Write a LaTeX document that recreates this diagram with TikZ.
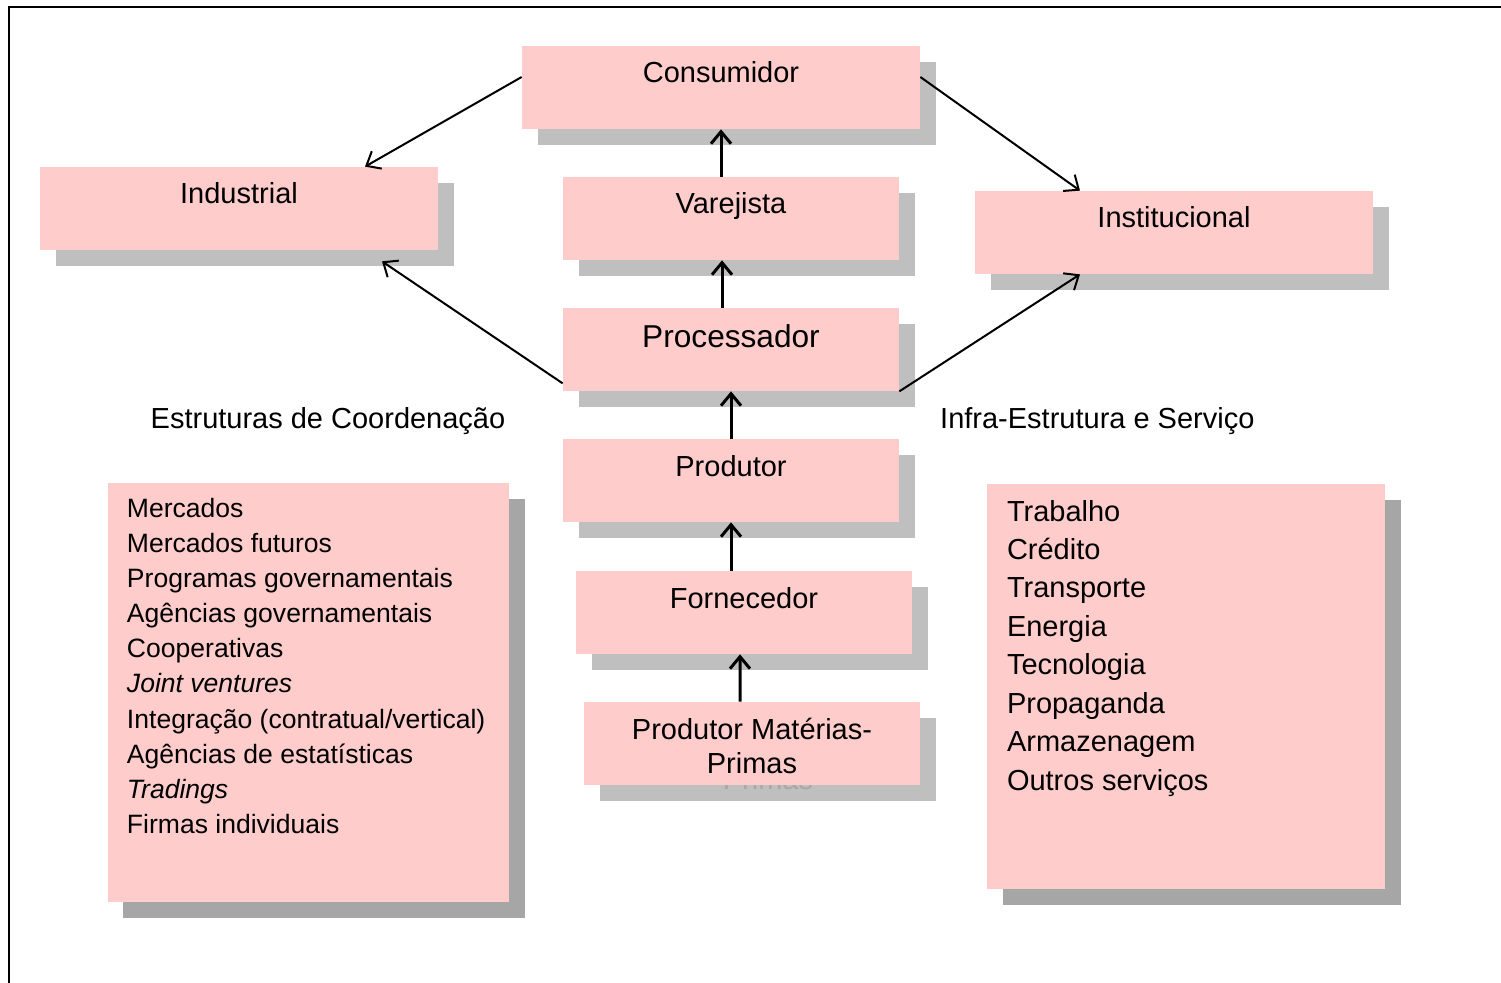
\documentclass[tikz,border=0pt]{standalone}
\usepackage{fontspec}
\setmainfont{Liberation Sans}
\usetikzlibrary{arrows.meta}
\usetikzlibrary{shadows}
\definecolor{boxpink}{RGB}{255,204,204}
\definecolor{shadegray}{RGB}{191,191,191}
\definecolor{darkshade}{RGB}{166,166,166}
\definecolor{ghostgray}{RGB}{168,168,168}
\tikzset{box/.style={fill=boxpink, inner sep=0, minimum width=67.2mm, minimum height=16.6mm, font=\fontsize{16.5}{19.3}\selectfont, drop shadow={fill=shadegray, opacity=1, shadow xshift=3.2mm, shadow yshift=-3.2mm}}}
\tikzset{stage/.style={box, text height=7.4mm, text depth=9.2mm}}
\tikzset{bigbox/.style={fill=boxpink, inner sep=0, drop shadow={fill=darkshade, opacity=1, shadow xshift=3.1mm, shadow yshift=-3.2mm}}}
\tikzset{flow/.style={-{Straight Barb[length=2.4mm,width=4mm]}, line width=0.6mm}}
\tikzset{side/.style={flow, line width=0.4mm}}

\begin{document}
\begin{tikzpicture}[x=0.2mm, y=-0.2mm]
    \useasboundingbox (0, 0) rectangle (1501, 983);
    \draw[line width=0.4mm] (9, 983) -- (9, 7) -- (1501, 7);

    \node[stage, minimum width=79.6mm] at (721, 87.5) (consumidor) {Consumidor};
    \node[stage, minimum width=79.6mm] at (239, 208.5) (industrial) {Industrial};
    \node[stage] at (731, 218.5) (varejista) {Varejista};
    \node[stage, minimum width=79.6mm] at (1174, 232.5) (institucional) {Institucional};
    \node[stage, font=\fontsize{18}{22}\selectfont, text height=7.9mm, text depth=8.7mm] at (731, 349.5) (processador) {Processador};
    \node[stage] at (731, 480.5) (produtor) {Produtor};
    \node[stage] at (744, 612.5) (fornecedor) {Fornecedor};
    \node[box, align=center, text height=14.3mm, text depth=2.3mm] at (752, 743.5) (primas) {Produtor Matérias-\\Primas};
    \begin{scope}
      \clip (primas.south west) rectangle ([xshift=3.4mm, yshift=-3.4mm]primas.south east);
      \node[inner sep=0, align=center, text=ghostgray, font=\fontsize{16.5}{19.3}\selectfont, text height=14.3mm, text depth=2.3mm] at ([xshift=3.2mm, yshift=-3.2mm]primas.center) (primasghost) {Produtor Matérias-\\Primas};
    \end{scope}

    \node[font=\fontsize{16.5}{20}\selectfont, anchor=base] at (328, 428.5) (coordtitle) {Estruturas de Coordenação};
    \node[font=\fontsize{16.5}{20}\selectfont, anchor=base west] at (934, 428.5) (infratitle) {Infra-Estrutura e Serviço};

    \node[bigbox, minimum width=80.2mm, minimum height=83.8mm] at (308.5, 692.5) (coordbox) {};
    \node[anchor=north west, inner sep=0, align=left, font=\fontsize{15.1}{20}\selectfont, xshift=3.8mm, yshift=-3mm] at (coordbox.north west) (coordlist) {Mercados\\Mercados futuros\\Programas governamentais\\Agências governamentais\\Cooperativas\\\textit{Joint ventures}\\Integração (contratual/vertical)\\Agências de estatísticas\\\textit{Tradings}\\Firmas individuais};

    \node[bigbox, minimum width=79.6mm, minimum height=81mm] at (1186, 686.5) (infrabox) {};
    \node[anchor=north west, inner sep=0, align=left, font=\fontsize{16.5}{21.9}\selectfont, xshift=4mm, yshift=-3.2mm] at (infrabox.north west) (infralist) {Trabalho\\Crédito\\Transporte\\Energia\\Tecnologia\\Propaganda\\Armazenagem\\Outros serviços};

    % chain
    \draw[flow] (varejista.north -| consumidor.south) -- (consumidor.south);
    \draw[flow] ([xshift=-1.8mm]processador.north) -- ([xshift=-1.8mm]varejista.south);
    \draw[flow] (produtor) -- (processador);
    \draw[flow] (fornecedor.north -| produtor.south) -- (produtor.south);
    \draw[flow] ([xshift=-2.4mm]primas.north) -- ([xshift=-0.8mm]fornecedor.south);

    % sides
    \draw[side] ([yshift=2.1mm]consumidor.west) -- ([xshift=25.2mm]industrial.north);
    \draw[side] ([yshift=2.1mm]consumidor.east) -- ([xshift=-18.8mm]institucional.north);
    \draw[side] ([yshift=1.6mm]processador.south west) -- ([xshift=28.6mm, yshift=-2.2mm]industrial.south);
    \draw[side] (processador.south east) -- ([xshift=-18.8mm]institucional.south);
  \end{tikzpicture}
\end{document}
